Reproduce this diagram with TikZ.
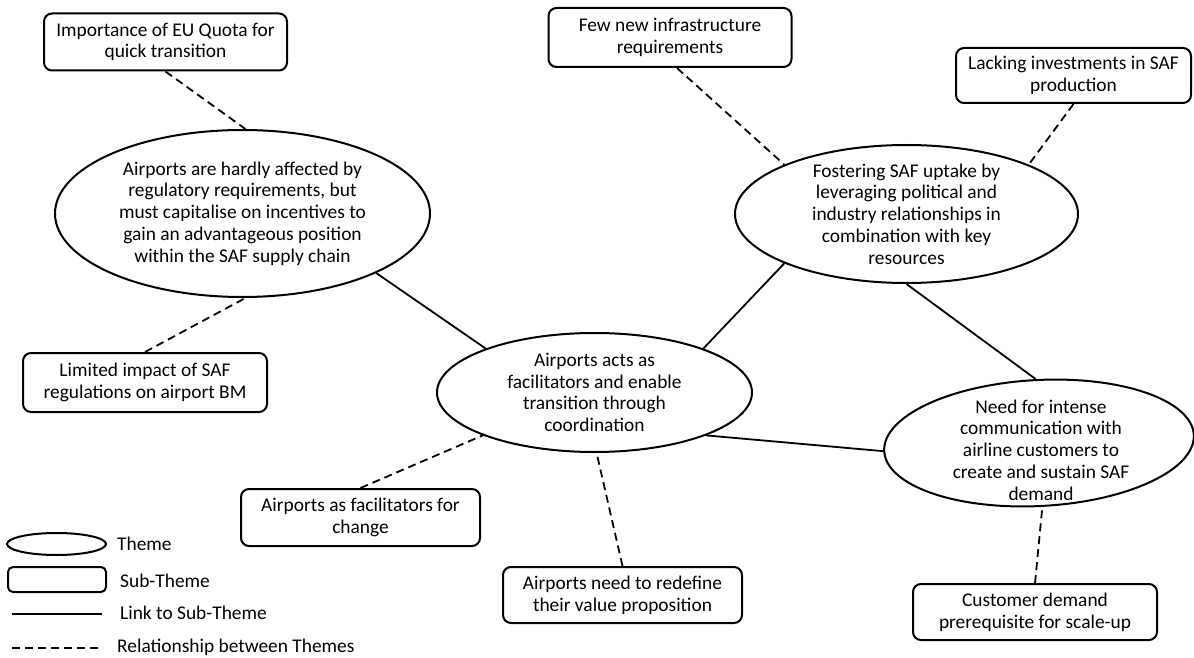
\documentclass[tikz,border=0pt]{standalone}
\usepackage{fontspec}
\setmainfont{Carlito}
\usetikzlibrary{shapes.geometric}
\begin{document}
\begin{tikzpicture}[x=1pt,y=-1pt,
  every node/.style={font=\fontsize{19.4}{21.7}\selectfont, align=center, inner sep=0pt},
  theme/.style={ellipse, draw, line width=2pt, inner sep=-25pt},
  subtheme/.style={draw, rounded corners=8pt, line width=2pt,
    minimum width=243pt, minimum height=57pt},
  link/.style={line width=1.8pt},
  relation/.style={line width=1.8pt, dash pattern=on 8pt off 5pt},
  legendtext/.style={anchor=west},
]
\useasboundingbox (0,0) rectangle (1194,658);

% themes
\node[theme, minimum width=375pt, minimum height=167pt] (A) at (242.5,213.5)
  {Airports are hardly affected by\\regulatory requirements, but\\must capitalise on incentives to\\gain an advantageous position\\within the SAF supply chain};
\node[theme, minimum width=343pt, minimum height=138pt] (B) at (906.5,214)
  {Fostering SAF uptake by\\leveraging political and\\industry relationships in\\combination with key\\resources};
\node[theme, minimum width=315pt, minimum height=119pt] (C) at (594.5,392.5)
  {Airports acts as\\facilitators and enable\\transition through\\coordination};
\node[theme, rotate=3, minimum width=310pt, minimum height=126pt] (D) at (1039,443) {};
\node (Dtext) at (1041,450)
  {Need for intense\\communication with\\airline customers to\\create and sustain SAF\\demand};

% sub-themes
\node[subtheme] (s1) at (165.5,42) {Importance of EU Quota for\\quick transition};
\node[subtheme, minimum height=59pt] (s2) at (670,37.5) {Few new infrastructure\\requirements};
\node[subtheme, minimum width=235pt, minimum height=55pt] (s3) at (1073.5,75.5) {Lacking investments in SAF\\production};
\node[subtheme, minimum width=244pt, minimum height=59pt] (s4) at (145,382.5) {Limited impact of SAF\\regulations on airport BM};
\node[subtheme, minimum width=239pt] (s5) at (360.5,517.5) {Airports as facilitators for\\change};
\node[subtheme, minimum width=239pt, minimum height=56pt] (s6) at (622.5,595) {Airports need to redefine\\their value proposition};
\node[subtheme, minimum width=244pt, minimum height=56pt] (s7) at (1035,612) {Customer demand\\prerequisite for scale-up};

% links between themes
\draw[link] (A.-24) -- (C.158);
\draw[link] (C.22) -- (B.-158);
\draw[link] (B.south) -- (D.north);
\draw[link] (C.-21) -- (D.west);

% relationships to sub-themes
\draw[relation] (s1.south) -- (A.88);
\draw[relation] (s4.north) -- (A.-88);
\draw[relation] ([xshift=7pt]s2.south) -- (B.158);
\draw[relation] (s3.south) -- (B.22);
\draw[relation] (s5.north) -- (C.201);
\draw[relation] (s6.north) -- (C.-88);
\draw[relation] (s7.north) -- (D.south);

% legend
\node[theme, inner sep=-5pt, minimum width=99pt, minimum height=22pt] (lgTheme) at (56.5,544) {};
\node[legendtext] (lgThemeT) at (117,544) {Theme};
\node[draw, rounded corners=5pt, line width=2pt, minimum width=98pt, minimum height=25pt] (lgSub) at (57,579.5) {};
\node[legendtext] (lgSubT) at (120,581) {Sub-Theme};
\coordinate (lgLa) at (12,614);
\coordinate (lgLb) at (102,614);
\draw[link] (lgLa) -- (lgLb);
\node[legendtext] (lgLinkT) at (120,613) {Link to Sub-Theme};
\coordinate (lgRa) at (12,648);
\coordinate (lgRb) at (102,648);
\draw[relation] (lgRa) -- (lgRb);
\node[legendtext] (lgRelT) at (117,647) {Relationship between Themes};
\end{tikzpicture}
\end{document}
